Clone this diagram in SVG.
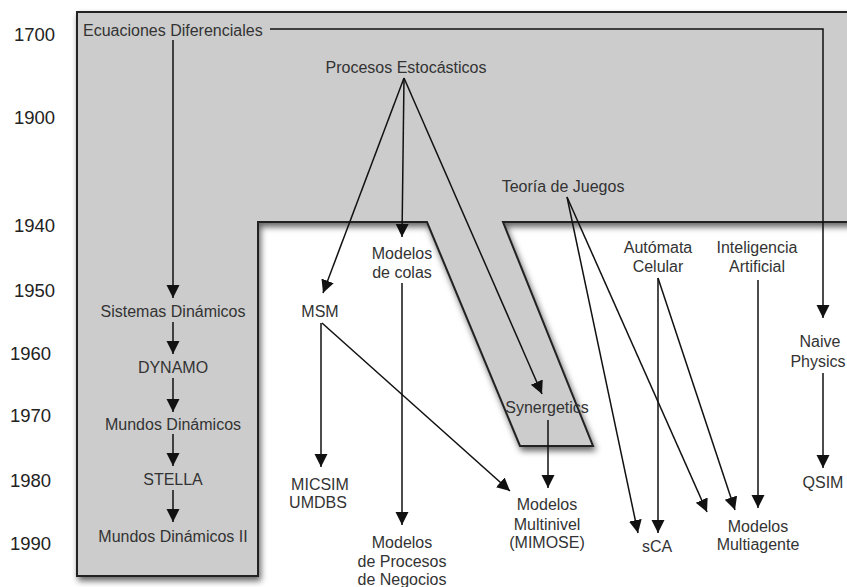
<svg xmlns="http://www.w3.org/2000/svg" width="847" height="587" viewBox="0 0 847 587">
  <defs>
    <style>
      .yr { font-family: "Liberation Sans", Arial, sans-serif; font-size: 18.5px; fill: #222; }
      .lb { font-family: "Liberation Sans", Arial, sans-serif; font-size: 16px; fill: #333; text-anchor: middle; }
      .ln { fill: none; stroke: #111; stroke-width: 1.5; }
      .ar { marker-end: url(#head); }
    </style>
    <marker id="head" markerUnits="userSpaceOnUse" markerWidth="13" markerHeight="14" viewBox="0 0 13 14" refX="13" refY="6.5" orient="auto">
      <path d="M0,0 L13,6.5 L0,13 Z" fill="#111"/>
    </marker>
    <filter id="shadow" x="-5%" y="-5%" width="115%" height="115%">
      <feDropShadow dx="2" dy="4" stdDeviation="3" flood-color="#000" flood-opacity="0.6"/>
    </filter>
  </defs>

  <rect width="847" height="587" fill="#fff"/>

  <!-- shaded era band -->
  <g id="band">
    <path d="M77,12 H870 V222 H503 L593,446 H520 L427,222 H258 V576 H77 Z" fill="#cccccc" stroke="#222" stroke-width="2" stroke-linejoin="miter" filter="url(#shadow)"/>
  </g>

  <!-- year axis -->
  <g id="years">
    <text class="yr" x="14" y="41">1700</text>
    <text class="yr" x="14" y="124">1900</text>
    <text class="yr" x="14" y="232">1940</text>
    <text class="yr" x="14" y="297">1950</text>
    <text class="yr" x="10" y="360">1960</text>
    <text class="yr" x="10" y="422">1970</text>
    <text class="yr" x="10" y="487">1980</text>
    <text class="yr" x="10" y="550">1990</text>
  </g>

  <!-- connectors -->
  <g id="connectors">
    <path class="ln ar" d="M173,40 V298"/>
    <path class="ln ar" d="M270,29 H823 V318"/>
    <path class="ln ar" d="M173,322 V354"/>
    <path class="ln ar" d="M173,378 V412"/>
    <path class="ln ar" d="M173,434 V466"/>
    <path class="ln ar" d="M173,490 V522"/>
    <path class="ln ar" d="M404,78 L323,293"/>
    <path class="ln ar" d="M404,78 L402,237"/>
    <path class="ln ar" d="M404,78 L542,394"/>
    <path class="ln ar" d="M321,323 V467"/>
    <path class="ln ar" d="M322,323 L510,491"/>
    <path class="ln ar" d="M402,283 V525"/>
    <path class="ln ar" d="M548,420 V488"/>
    <path class="ln ar" d="M567,197 L638,533"/>
    <path class="ln ar" d="M567,197 L707,512"/>
    <path class="ln ar" d="M658,278 V533"/>
    <path class="ln ar" d="M658,278 L735,510"/>
    <path class="ln ar" d="M758,280 V508"/>
    <path class="ln ar" d="M823,373 V468"/>
  </g>

  <!-- nodes -->
  <g id="ecuaciones"><text class="lb" x="83" y="36" style="text-anchor:start">Ecuaciones Diferenciales</text></g>
  <g id="procesos"><text class="lb" x="406" y="73">Procesos Estocásticos</text></g>
  <g id="teoria"><text class="lb" x="563" y="192">Teoría de Juegos</text></g>
  <g id="sistemas"><text class="lb" x="173" y="317">Sistemas Dinámicos</text></g>
  <g id="dynamo"><text class="lb" x="173" y="373">DYNAMO</text></g>
  <g id="mundos"><text class="lb" x="173" y="430">Mundos Dinámicos</text></g>
  <g id="stella"><text class="lb" x="173" y="485">STELLA</text></g>
  <g id="mundos2"><text class="lb" x="173" y="542">Mundos Dinámicos II</text></g>
  <g id="msm"><text class="lb" x="320" y="317">MSM</text></g>
  <g id="colas"><text class="lb" x="402" y="259">Modelos</text><text class="lb" x="402" y="278">de colas</text></g>
  <g id="synergetics"><text class="lb" x="547" y="413">Synergetics</text></g>
  <g id="automata"><text class="lb" x="658" y="253">Autómata</text><text class="lb" x="658" y="272">Celular</text></g>
  <g id="ia"><text class="lb" x="757" y="253">Inteligencia</text><text class="lb" x="757" y="272">Artificial</text></g>
  <g id="naive"><text class="lb" x="820" y="347">Naive</text><text class="lb" x="818" y="367">Physics</text></g>
  <g id="micsim"><text class="lb" x="320" y="490">MICSIM</text><text class="lb" x="318" y="508">UMDBS</text></g>
  <g id="negocios"><text class="lb" x="402" y="548">Modelos</text><text class="lb" x="402" y="567">de Procesos</text><text class="lb" x="402" y="585">de Negocios</text></g>
  <g id="multinivel"><text class="lb" x="547" y="510">Modelos</text><text class="lb" x="547" y="530">Multinivel</text><text class="lb" x="547" y="548">(MIMOSE)</text></g>
  <g id="sca"><text class="lb" x="657" y="552">sCA</text></g>
  <g id="multiagente"><text class="lb" x="758" y="532">Modelos</text><text class="lb" x="758" y="550">Multiagente</text></g>
  <g id="qsim"><text class="lb" x="823" y="488">QSIM</text></g>
</svg>
